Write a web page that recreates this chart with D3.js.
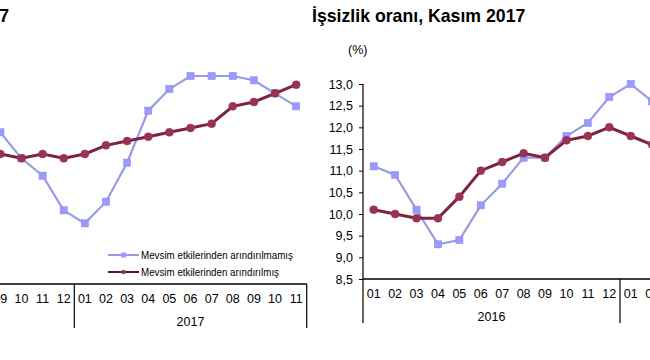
<!DOCTYPE html>
<html><head><meta charset="utf-8">
<script src="https://cdn.jsdelivr.net/npm/d3@7"></script>
<style>
body{margin:0;background:#fff}
svg{display:block}
text{font-family:"Liberation Sans",Arial,Helvetica,sans-serif;fill:#000}
</style>
</head><body>
<svg id="chart" width="650" height="360"></svg>
<script>
// ---------- data ----------
const monthLabels = ["01","02","03","04","05","06","07","08","09","10","11","12",
                     "01","02","03","04","05","06","07","08","09","10","11"];
const yearLabels = ["2016","2017"];
const seriesNames = ["Mevsim etkilerinden arındırılmamış","Mevsim etkilerinden arındırılmış"];
const leftTitle = "İstihdam oranı, Kasım 2017";
const rightTitle = "İşsizlik oranı, Kasım 2017";
const unitLabel = "(%)";

// left chart: visible part only, from 2016-09 (index 8) to 2017-11
const leftStartIndex = 8;
const leftUnadjusted = [47.5,46.9,46.5,45.7,45.4,45.9,46.8,48.0,48.5,48.8,48.8,48.8,48.7,48.4,48.1];
const leftAdjusted   = [47.0,46.9,47.0,46.9,47.0,47.2,47.3,47.4,47.5,47.6,47.7,48.1,48.2,48.4,48.6];

// right chart: unemployment rate, from 2016-01 (visible up to 2017-02)
const rightUnadjusted = [11.1,10.9,10.1,9.3,9.4,10.2,10.7,11.3,11.3,11.8,12.1,12.7,13.0,12.6];
const rightAdjusted   = [10.1,10.0,9.9,9.9,10.4,11.0,11.2,11.4,11.3,11.7,11.8,12.0,11.8,11.6];
const rightTicks = [8.5,9.0,9.5,10.0,10.5,11.0,11.5,12.0,12.5,13.0];

// ---------- styles ----------
const BLUE_LINE = "#9a9ae2", BLUE_FILL = "#9999ff";
const RED_LINE = "#7d2240", RED_FILL = "#993355";
const W = 650;

const svg = d3.select("#chart");
svg.append("rect").attr("width",650).attr("height",360).attr("fill","#fff");

function drawChart(cfg){
  const g = svg.append("g");
  const x = d3.scaleBand().domain(d3.range(monthLabels.length))
      .range([cfg.x0, cfg.x0 + monthLabels.length*cfg.band]).paddingInner(0).paddingOuter(0);
  const y = d3.scaleLinear().domain(cfg.yDomain).range([cfg.yBottom, cfg.yTop]);
  const cx = i => x(i) + x.bandwidth()/2;
  const visible = xx => xx > -12 && xx < W + 12;

  // y axis
  if (cfg.yTicks){
    const ax = d3.axisLeft(y).tickValues(cfg.yTicks).tickSize(4).tickPadding(6)
      .tickFormat(d => d3.format(".1f")(d).replace(".", ","));
    const ga = g.append("g").attr("transform",`translate(${cfg.x0},0)`).call(ax);
    ga.select(".domain").remove();
    ga.selectAll("line").attr("stroke","#000");
    ga.selectAll("text").attr("font-size",12.5).style("font-family",'"Liberation Sans",Arial,sans-serif');
  }
  // axis lines
  const xEnd = cfg.x0 + monthLabels.length*cfg.band;
  g.append("line").attr("x1",Math.max(cfg.x0,-2)).attr("x2",Math.min(xEnd,W+2)).attr("y1",cfg.yBottom).attr("y2",cfg.yBottom)
    .attr("stroke","#000").attr("stroke-width",1.3);
  if (cfg.yTicks){
    g.append("line").attr("x1",cfg.x0).attr("x2",cfg.x0).attr("y1",y(cfg.yTicks[cfg.yTicks.length-1])).attr("y2",cfg.yBottom)
      .attr("stroke","#000").attr("stroke-width",1.2);
  }
  // year dividers
  [0,12,23].forEach(i => {
    const xx = i < monthLabels.length ? x(i) : xEnd;
    if (xx < -2 || xx > W + 2) return;
    g.append("line").attr("x1",xx).attr("x2",xx).attr("y1",cfg.yBottom).attr("y2",cfg.yBottom+44)
      .attr("stroke","#000").attr("stroke-width",1.2);
  });
  // month labels (only those that fall within the picture)
  const ml = monthLabels.map((d,i)=>({d,i})).filter(o => visible(cx(o.i)));
  g.selectAll("text.m").data(ml).join("text").attr("class","m")
    .attr("x",o=>cx(o.i)).attr("y",cfg.yBottom+18.5).attr("text-anchor","middle")
    .attr("font-size",12.5).text(o=>o.d);
  // year labels
  const yl = yearLabels.map((d,i)=>({d, xx: i===0 ? (x(0)+x(12))/2 : (x(12)+xEnd)/2}))
    .filter(o => o.xx > 15 && o.xx < W - 15);
  g.selectAll("text.yr").data(yl).join("text").attr("class","yr")
    .attr("x",o=>o.xx).attr("y",cfg.yBottom+41.5).attr("text-anchor","middle").attr("font-size",12.5).text(o=>o.d);

  // series
  const line = d3.line().x(d=>cx(d.i)).y(d=>y(d.v));
  const un = cfg.unadjusted.map((v,k)=>({i:cfg.start+k, v}));
  const ad = cfg.adjusted.map((v,k)=>({i:cfg.start+k, v}));
  g.append("path").datum(un).attr("d",line).attr("fill","none").attr("stroke",BLUE_LINE).attr("stroke-width",2.2);
  g.selectAll("rect.sq").data(un).join("rect").attr("class","sq")
    .attr("x",d=>cx(d.i)-3.6).attr("y",d=>y(d.v)-3.6).attr("width",7.2).attr("height",7.2)
    .attr("fill",BLUE_FILL).attr("stroke","#8c8cf0").attr("stroke-width",0.5);
  g.append("path").datum(ad).attr("d",line).attr("fill","none").attr("stroke",RED_LINE).attr("stroke-width",3);
  g.selectAll("circle.pt").data(ad).join("circle").attr("class","pt")
    .attr("cx",d=>cx(d.i)).attr("cy",d=>y(d.v)).attr("r",4)
    .attr("fill",RED_FILL).attr("stroke",RED_FILL).attr("stroke-width",0.5);

  // title
  g.append("text").attr("x",cfg.titleX).attr("y",22).attr("text-anchor",cfg.titleAnchor)
    .attr("font-size",17.7).attr("font-weight","bold").text(cfg.title);
  return {x,y,g};
}

// left chart
const L = drawChart({
  x0: 74.3 - 12*21.13, band: 21.13, yBottom: 284, yTop: 89, yDomain: [44.0, 48.5],
  yTicks: null, start: leftStartIndex, unadjusted: leftUnadjusted, adjusted: leftAdjusted,
  title: leftTitle, titleX: 9, titleAnchor: "end"
});

// legend (left chart)
const lg = svg.append("g");
const legendRows = [
  {name: seriesNames[0], stroke: BLUE_LINE, fill: BLUE_FILL, shape: "sq", y: 255, w: 152},
  {name: seriesNames[1], stroke: "#5a1a30", fill: RED_FILL, shape: "ci", y: 272, w: 138}
];
legendRows.forEach(r => {
  lg.append("line").attr("x1",108).attr("x2",139).attr("y1",r.y).attr("y2",r.y).attr("stroke",r.stroke).attr("stroke-width",2);
  if (r.shape === "sq") lg.append("rect").attr("x",121).attr("y",r.y-2.5).attr("width",5).attr("height",5).attr("fill",r.fill);
  else lg.append("circle").attr("cx",123.5).attr("cy",r.y).attr("r",2.3).attr("fill",r.fill);
  lg.append("text").attr("x",141).attr("y",r.y+3.6).attr("font-size",10.5)
    .attr("textLength",r.w).attr("lengthAdjust","spacingAndGlyphs").text(r.name);
});

// right chart
const R = drawChart({
  x0: 363, band: 21.417, yBottom: 279, yTop: 84, yDomain: [8.5, 13.0],
  yTicks: rightTicks, start: 0, unadjusted: rightUnadjusted, adjusted: rightAdjusted,
  title: rightTitle, titleX: 312, titleAnchor: "start"
});
svg.append("text").attr("x",348).attr("y",54).attr("font-size",12.5).text(unitLabel);
</script>
</body></html>
